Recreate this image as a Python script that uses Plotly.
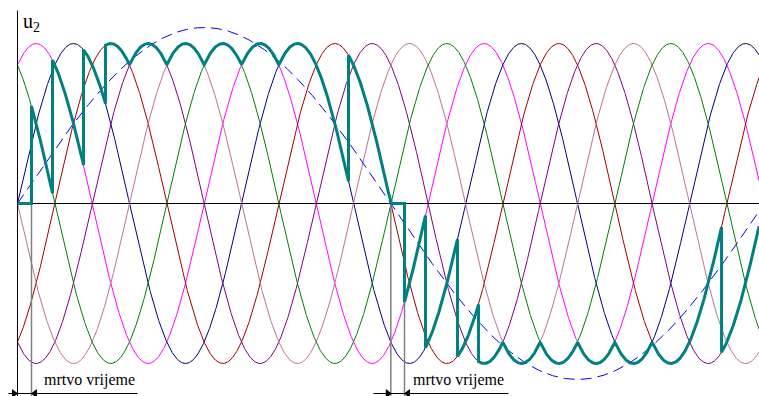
import numpy as np
import plotly.graph_objects as go

# six phase supply (x axis in degrees of the supply voltage)
phase_names = ['magenta', 'navy', 'red', 'purple', 'rosy', 'green']
phase_shift = [60, 0, -60, -120, -180, -240]
phase_colors = ['#ff00ff', '#000080', '#a00000', '#800080', '#c07090', '#008000']
amplitude = 1.0

# wanted (low frequency) output voltage, dashed
ref_amplitude = 1.1
ref_half_period = 600

# output voltage u2: start of each piece and what it follows
seg_start = [0, 22.5, 56.3, 106.1, 141.4, 480, 532, 600, 622, 655.7, 707.1, 740.9, 1050, 1131.5]
seg_mode = ['zero', 'green', 'magenta', 'navy', 'max', 'navy', 'red', 'zero',
            'magenta', 'navy', 'red', 'min', 'red', 'purple']

# dead time marks
dead_lines = [22.5, 600, 622]
dead_text = 'mrtvo vrijeme'

x_min, x_max = -28.1, 1191.7
y_min, y_max = -1.2031, 1.2719
serif = 'Times New Roman, Liberation Serif, serif'


def phase(name, t):
    k = phase_names.index(name)
    return amplitude * np.sin(np.radians(t + phase_shift[k]))


fig = go.Figure()

t = np.arange(0, x_max + 0.5, 0.5)
for name, col in zip(phase_names, phase_colors):
    fig.add_trace(go.Scatter(x=t, y=phase(name, t), mode='lines',
                             line=dict(color=col, width=1), hoverinfo='skip'))

fig.add_trace(go.Scatter(x=t, y=ref_amplitude * np.sin(np.pi * t / ref_half_period), mode='lines',
                         line=dict(color='#0000ff', width=1, dash='11px,6px'), hoverinfo='skip'))

# axes
fig.add_trace(go.Scatter(x=[0, x_max], y=[0, 0], mode='lines',
                         line=dict(color='black', width=1), hoverinfo='skip'))
fig.add_trace(go.Scatter(x=[0, 0], y=[1.206, y_min], mode='lines',
                         line=dict(color='black', width=1), hoverinfo='skip'))
for d in dead_lines:
    fig.add_trace(go.Scatter(x=[d, d], y=[0, y_min], mode='lines',
                             line=dict(color='#808080', width=1.5), hoverinfo='skip'))

# output waveform
ox, oy = [], []
ends = seg_start[1:] + [x_max]
for s, e, m in zip(seg_start, ends, seg_mode):
    tt = np.linspace(s, e, max(int((e - s) * 2), 2))
    if m == 'zero':
        yy = np.zeros_like(tt)
    elif m == 'max':
        yy = np.max([phase(n, tt) for n in phase_names], axis=0)
    elif m == 'min':
        yy = np.min([phase(n, tt) for n in phase_names], axis=0)
    else:
        yy = phase(m, tt)
    ox += list(tt)
    oy += list(yy)
fig.add_trace(go.Scatter(x=ox, y=oy, mode='lines',
                         line=dict(color='#008080', width=3), hoverinfo='skip'))

# dimension lines for dead time, arrow tips on the gray lines
y_dim = -1.1875
dim_lines = [(-14.5, 192.9), (572.1, 789.1)]
tip_right = [-5.6, 595.2]   # triangle centres, point to the right
tip_left = [28.1, 627.6]    # triangle centres, point to the left
for a, b in dim_lines:
    fig.add_trace(go.Scatter(x=[a, b], y=[y_dim, y_dim], mode='lines',
                             line=dict(color='black', width=1), hoverinfo='skip'))
fig.add_trace(go.Scatter(x=tip_right, y=[y_dim] * 2, mode='markers',
                         marker=dict(symbol='triangle-right', size=8, color='black'), hoverinfo='skip'))
fig.add_trace(go.Scatter(x=tip_left, y=[y_dim] * 2, mode='markers',
                         marker=dict(symbol='triangle-left', size=8, color='black'), hoverinfo='skip'))

for cx in [115.7, 708.8]:
    fig.add_annotation(x=cx, y=-1.106, text=dead_text, showarrow=False,
                       font=dict(family=serif, size=16, color='black'))

fig.add_annotation(x=5, y=1.13, text='u<sub>2</sub>', showarrow=False, xanchor='left',
                   font=dict(family=serif, size=20, color='black'))

fig.update_layout(width=759, height=396, margin=dict(l=0, r=0, t=0, b=0, pad=0),
                  plot_bgcolor='white', paper_bgcolor='white', showlegend=False)
fig.update_xaxes(range=[x_min, x_max], visible=False)
fig.update_yaxes(range=[y_min, y_max], visible=False)

fig.write_html("out.html", config={'displayModeBar': False},
               post_script="document.body.style.margin='0px';")
